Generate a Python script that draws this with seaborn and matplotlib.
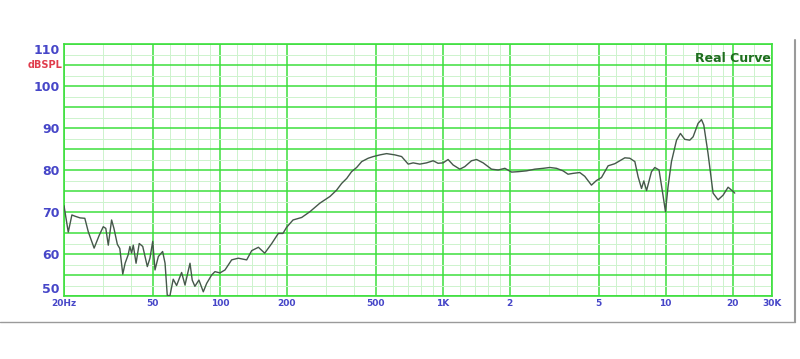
import matplotlib
matplotlib.use("Agg")
import matplotlib.pyplot as plt
from matplotlib.lines import Line2D
from matplotlib.ticker import FixedLocator, NullFormatter
import numpy as np
import pandas as pd
import seaborn as sns

# ---- data ----
freq_hz = [20, 20.9, 21.7, 22.4, 23.6, 24.8, 25.7, 27.3, 28.8, 30.0, 30.8, 31.6, 32.7, 33.5,
           34.7, 35.6, 36.7, 37.6, 38.8, 39.5, 40.2, 40.9, 42.1, 43.5, 45.1, 47.3, 48.6, 50.0,
           51.2, 53.0, 55.4, 56.8, 58.1, 59.7, 61.8, 64.0, 67.4, 69.8, 73.5, 75.2, 77.3, 80.6,
           84.3, 87.3, 91.9, 95.1, 100.2, 105.5, 113, 121, 132, 139, 149, 159, 171, 183, 192,
           199, 213, 233, 254, 281, 312, 334, 352, 371, 390, 411, 433, 463, 488, 523, 560, 610,
           654, 700, 737, 789, 846, 906, 953, 1004, 1057, 1113, 1193, 1256, 1346, 1419, 1518,
           1655, 1773, 1900, 2036, 2178, 2377, 2590, 2823, 3022, 3238, 3465, 3648, 3844, 4119,
           4336, 4647, 4894, 5153, 5521, 5915, 6560, 6908, 7276, 7524, 7795, 7982, 8210, 8640,
           8940, 9340, 9730, 9980, 10250, 10620, 11190, 11650, 12180, 12830, 13280, 13980,
           14480, 14830, 15490, 16320, 17190, 18100, 19060, 20060, 20420]
spl_db = [71.5, 65.2, 69.3, 69.0, 68.6, 68.5, 65.3, 61.4, 64.5, 66.5, 66.1, 62.1, 68.1, 66.1,
          62.3, 61.3, 55.2, 57.8, 59.8, 61.8, 60.2, 62.1, 57.8, 62.5, 61.8, 57.0, 59.0, 63.0,
          56.2, 59.4, 60.6, 57.8, 50.2, 50.0, 54.0, 52.5, 55.6, 52.6, 57.8, 53.8, 52.3, 53.8,
          51.0, 53.0, 55.0, 55.8, 55.5, 56.2, 58.6, 59.0, 58.6, 60.8, 61.6, 60.2, 62.5, 64.9, 64.9,
          66.3, 68.1, 68.7, 70.1, 72.1, 73.7, 75.2, 76.8, 78.0, 79.6, 80.6, 82.0, 82.8, 83.2, 83.6, 83.9, 83.6,
          83.2, 81.4, 81.7, 81.4, 81.7, 82.2, 81.6, 81.7, 82.5, 81.2, 80.2, 80.8, 82.2, 82.5, 81.7,
          80.2, 80.0, 80.4, 79.5, 79.6, 79.8, 80.2, 80.4, 80.6, 80.4, 79.8, 79.0, 79.2, 79.4,
          78.5, 76.4, 77.5, 78.2, 81.0, 81.5, 82.9, 82.8, 82.0, 78.4, 75.6, 77.4, 75.1, 79.6,
          80.6, 80.0, 74.0, 70.1, 76.0, 82.0, 87.1, 88.7, 87.3, 87.1, 87.9, 91.1,
          92.0, 90.7, 84.0, 74.5, 72.9, 74.0, 75.9, 74.9, 74.5]

x_tick_values = [20, 50, 100, 200, 500, 1000, 2000, 5000, 10000, 20000, 30000]
x_tick_labels = ["20Hz", "50", "100", "200", "500", "1K", "2", "5", "10", "20", "30K"]
y_tick_values = [50, 60, 70, 80, 90, 100, 110]
y_tick_labels = ["50", "60", "70", "80", "90", "100", "110"]

df = pd.DataFrame({"freq": freq_hz, "db": spl_db})

# ---- style ----
sns.set_style("white")
plt.rcParams["font.family"] = ["DejaVu Sans"]

GREEN = "#3ddf3d"
LIGHT = "#cdf3cd"
BLUE = "#4646c8"
CURVE = "#45584a"

fig = plt.figure(figsize=(8.0, 3.59), dpi=100)
ax = fig.add_axes([64 / 800, 1 - 296 / 359, 708 / 800, 252 / 359])

sns.lineplot(data=df, x="freq", y="db", ax=ax, color=CURVE, linewidth=1.0,
             legend=False, zorder=5)

ax.set_xscale("log")
ax.set_xlim(20, 30000)
ax.set_ylim(50, 110)

# major x ticks (labels + bright grid)
ax.xaxis.set_major_locator(FixedLocator(x_tick_values))
ax.set_xticklabels(x_tick_labels)
minor_x = []
for d in [10, 100, 1000, 10000]:
    for m in [1.2, 1.4, 1.6, 1.8, 3, 4, 6, 7, 8, 9]:
        v = m * d
        if 20 < v < 30000:
            minor_x.append(v)
minor_x.append(25000)
ax.xaxis.set_minor_locator(FixedLocator(minor_x))
ax.xaxis.set_minor_formatter(NullFormatter())

# y: bright lines every 5 dB, labels every 10 dB, faint every 2.5
y_major = list(np.arange(50, 111, 5))
ax.yaxis.set_major_locator(FixedLocator(y_major))
label_map = dict(zip(y_tick_values, y_tick_labels))
ax.set_yticklabels([label_map.get(int(v), "") for v in y_major])
ax.yaxis.set_minor_locator(FixedLocator(list(np.arange(52.5, 110, 5))))
ax.yaxis.set_minor_formatter(NullFormatter())

ax.grid(which="major", color=GREEN, linewidth=1.1)
ax.grid(which="minor", color=LIGHT, linewidth=0.7)
ax.set_axisbelow(True)

ax.tick_params(which="both", length=0)
ax.tick_params(axis="y", pad=3, labelsize=9, labelcolor=BLUE)
ax.tick_params(axis="x", pad=2.5, labelsize=6.5, labelcolor=BLUE)
for lab in ax.get_xticklabels() + ax.get_yticklabels():
    lab.set_fontweight("bold")

# keep edge labels inside the axis range, as in the reference
ylabs = ax.get_yticklabels()
ylabs[0].set_verticalalignment("bottom")   # 50
ylabs[-1].set_verticalalignment("top")     # 110

for sp in ax.spines.values():
    sp.set_color(GREEN)
    sp.set_linewidth(1.2)

ax.set_xlabel("")
ax.set_ylabel("")

# unit label and curve title
fig.text(62 / 800, 1 - 65 / 359, "dBSPL", color="#e03c4c", fontsize=7,
         fontweight="bold", ha="right", va="center")
ax.text(0.998, 0.97, "Real Curve", transform=ax.transAxes, color="#1e6e1e",
        fontsize=9, fontweight="bold", ha="right", va="top", zorder=6)

# frame lines of the picture
fig.add_artist(Line2D([0, 795 / 800], [1 - 322 / 359, 1 - 322 / 359],
                      transform=fig.transFigure, color="#9a9a9a", linewidth=1.0))
fig.add_artist(Line2D([795 / 800, 795 / 800], [1 - 322 / 359, 1 - 40 / 359],
                      transform=fig.transFigure, color="#9a9a9a", linewidth=1.5))

fig.savefig("out.png", dpi=100, facecolor="white")
